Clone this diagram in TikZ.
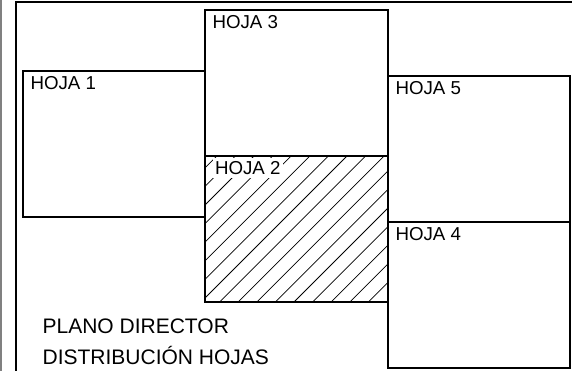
\documentclass[tikz,border=0pt]{standalone}
\usepackage{fontspec}
\setmainfont{Liberation Sans}
\begin{document}
\begin{tikzpicture}[x=1pt,y=-1pt,
  sheet/.style={draw=black,line width=1.5pt},
  frame/.style={draw=black,line width=1.9pt},
  lbl/.style={anchor=base west,inner sep=0pt,font=\fontsize{18.7}{21}\selectfont},
  ttl/.style={anchor=base west,inner sep=0pt,font=\fontsize{21}{24}\selectfont},
  hatchline/.style={draw=black,line width=0.75pt}]
\useasboundingbox (0,0) rectangle (572,371);
\fill[white] (0,0) rectangle (572,371);
% grey left border
\draw[gray,line width=2pt] (1.2,0) -- (1.2,371);
% outer frame (cropped)
\draw[frame] (16,372) -- (16,2.3) -- (573,2.3);
% hatch of HOJA 2
\begin{scope}
  \clip (205,156) rectangle (388,302);
  \foreach \n in {-3,...,16} {
    \pgfmathsetmacro\cc{410+18.6*\n}
    \draw[hatchline] ({\cc-302},302) -- ({\cc-156},156);
  }
\end{scope}
% sheets
\draw[sheet] (23,71) rectangle (205,217);
\draw[sheet] (205,10) rectangle (388,156);
\draw[sheet] (205,156) rectangle (388,302);
\draw[sheet] (388,76) rectangle (570,222);
\draw[sheet] (388,222) rectangle (570,368);
% labels
\node[lbl] (h1) at (30.3,89.5) {HOJA 1};
\node[lbl] (h3) at (212.3,28.5) {HOJA 3};
\node[lbl,fill=white,inner xsep=2.5pt,inner ysep=3pt] (h2) at (212.3,174.5) {HOJA 2};
\node[lbl] (h5) at (395.3,94.5) {HOJA 5};
\node[lbl] (h4) at (395.3,240.5) {HOJA 4};
\node[ttl] (t1) at (42.4,333.3) {PLANO DIRECTOR};
\node[ttl] (t2) at (42.4,364) {DISTRIBUCIÓN HOJAS};
\end{tikzpicture}
\end{document}
